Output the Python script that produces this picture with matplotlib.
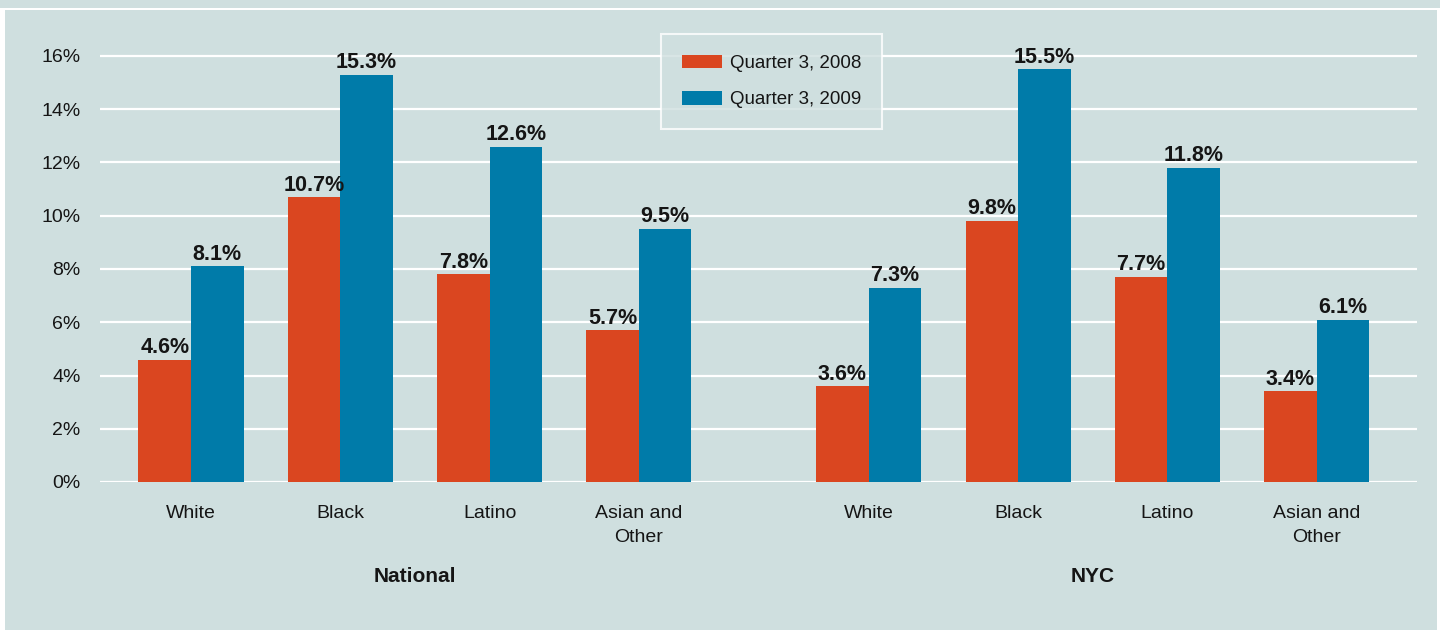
import matplotlib
matplotlib.use("Agg")
import matplotlib.pyplot as plt
import matplotlib.transforms as mtransforms
from matplotlib.patches import Rectangle
from matplotlib import font_manager
import numpy as np

# ---- data ----
groups = ["National", "NYC"]
categories = ["White", "Black", "Latino", "Asian and\nOther"]
series_names = ["Quarter 3, 2008", "Quarter 3, 2009"]
national_2008 = [4.6, 10.7, 7.8, 5.7]
national_2009 = [8.1, 15.3, 12.6, 9.5]
nyc_2008 = [3.6, 9.8, 7.7, 3.4]
nyc_2009 = [7.3, 15.5, 11.8, 6.1]
yticks = [0, 2, 4, 6, 8, 10, 12, 14, 16]

# ---- style ----
BG = "#cfdfdf"
RED = "#da4620"
BLUE = "#007ba9"
TXT = "#151515"
W, H = 1440, 630

installed = {f.name for f in font_manager.fontManager.ttflist}
FONT = [f for f in ["Liberation Sans Narrow", "Liberation Sans", "DejaVu Sans"] if f in installed]
plt.rcParams["font.family"] = FONT

fig = plt.figure(figsize=(W / 100, H / 100), dpi=100, facecolor="white")

# background panels
fig.patches.append(Rectangle((0, 1 - 8 / H), 1, 8 / H, transform=fig.transFigure,
                             facecolor=BG, edgecolor="none", zorder=-10))
fig.patches.append(Rectangle((5 / W, 0), (1437 - 5) / W, (H - 10) / H, transform=fig.transFigure,
                             facecolor=BG, edgecolor="none", zorder=-10))

ylo, yhi = 0, 17.5
px_per_unit = (482 - 56) / 16.0
ax_bottom = 1 - 482 / H
ax_height = yhi * px_per_unit / H
ax_left = 100 / W
ax_width = (1417 - 100) / W
ax = fig.add_axes([ax_left, ax_bottom, ax_width, ax_height])
ax.set_facecolor("none")

offset = 4.54
x_nat = np.arange(len(categories))
x_nyc = np.arange(len(categories)) + offset
xs = np.concatenate([x_nat, x_nyc])
v08 = national_2008 + nyc_2008
v09 = national_2009 + nyc_2009
bw = 0.352

b1 = ax.bar(xs - bw / 2, v08, width=bw, color=RED, zorder=3, label=series_names[0])
b2 = ax.bar(xs + bw / 2, v09, width=bw, color=BLUE, zorder=3, label=series_names[1])

for bars, vals in ((b1, v08), (b2, v09)):
    for r, v in zip(bars, vals):
        ax.text(r.get_x() + r.get_width() / 2, v + 0.06, f"{v:.1f}%", ha="center", va="bottom",
                fontsize=15.5, fontweight="bold", color=TXT, zorder=4)

ax.set_xlim(-0.6095, 8.2117)
ax.set_ylim(ylo, yhi)
ax.set_yticks(yticks)
ax.set_yticklabels([f"{t}%" for t in yticks], fontsize=14, color=TXT)
for t in yticks:
    ax.axhline(t, color="white", lw=1.6, zorder=1)
ax.set_xticks(xs)
ax.set_xticklabels(categories * 2, fontsize=14, color=TXT, linespacing=1.55)
ax.tick_params(axis="both", length=0)
ax.tick_params(axis="x", pad=16.5)
ax.tick_params(axis="y", pad=14)
for s in ax.spines.values():
    s.set_visible(False)

trans = mtransforms.blended_transform_factory(ax.transData, fig.transFigure)
ax.text(x_nat.mean(), 1 - 576 / H, groups[0], transform=trans, ha="center", va="center",
        fontsize=15, fontweight="bold", color=TXT)
ax.text(x_nyc.mean(), 1 - 576 / H, groups[1], transform=trans, ha="center", va="center",
        fontsize=15, fontweight="bold", color=TXT)

leg = ax.legend(loc="upper left", bbox_to_anchor=(661 / W, 1 - 34 / H), bbox_transform=fig.transFigure,
                fontsize=13.5, frameon=True, fancybox=False, handlelength=2.13, handleheight=0.75,
                handletextpad=0.45, labelspacing=1.0, borderpad=1.1, borderaxespad=0)
leg.get_frame().set_facecolor(BG)
leg.get_frame().set_edgecolor("white")
leg.get_frame().set_linewidth(1.5)
leg.set_zorder(5)
for t in leg.get_texts():
    t.set_color(TXT)

fig.savefig("out.png", dpi=100, facecolor="white")
